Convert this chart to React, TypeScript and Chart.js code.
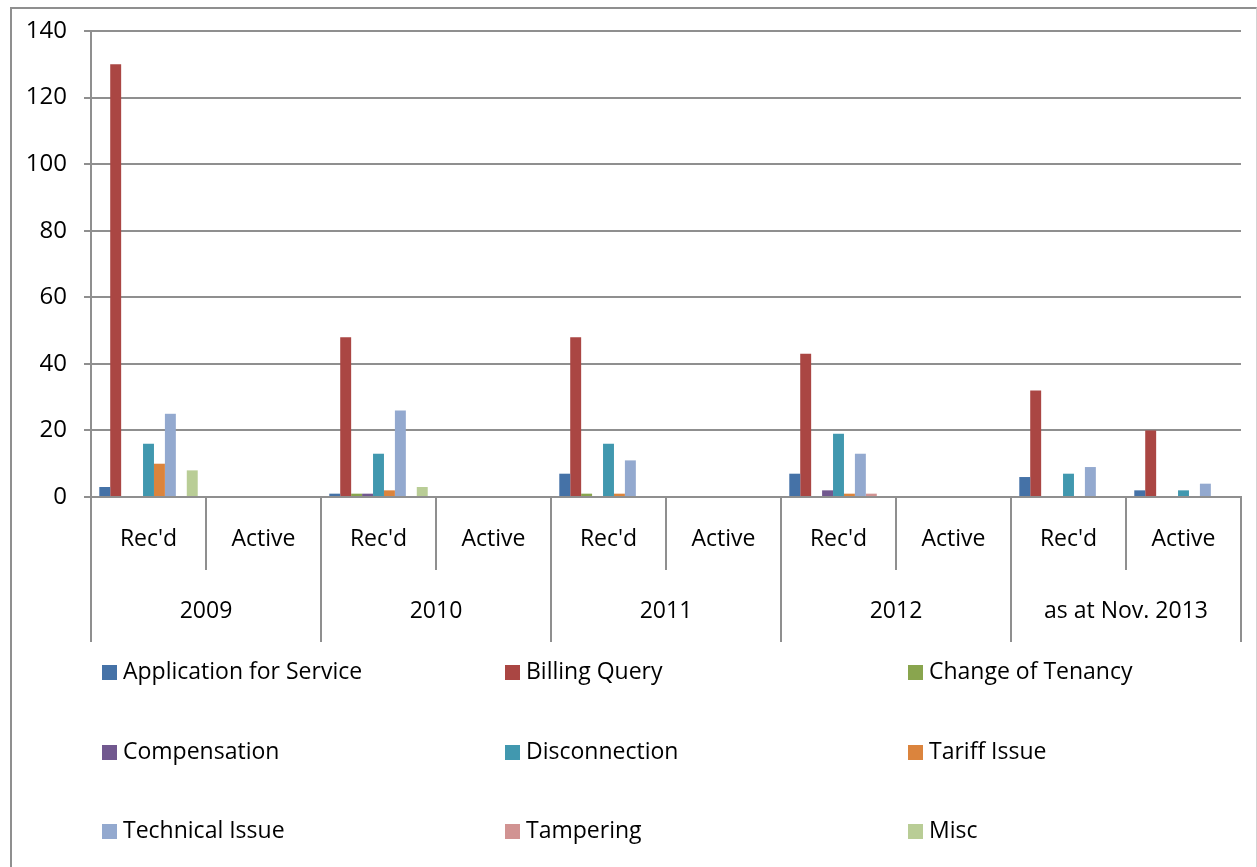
import React, { useEffect, useRef } from 'react';
import { Chart, registerables } from 'chart.js';

Chart.register(...registerables);

// ---- data ----
const subCategories = ["Rec'd", 'Active', "Rec'd", 'Active', "Rec'd", 'Active', "Rec'd", 'Active', "Rec'd", 'Active'];
const years = ['2009', '2010', '2011', '2012', 'as at Nov. 2013'];
const seriesNames = [
  'Application for Service',
  'Billing Query',
  'Change of Tenancy',
  'Compensation',
  'Disconnection',
  'Tariff Issue',
  'Technical Issue',
  'Tampering',
  'Misc',
];
const applicationForService = [3, 0, 1, 0, 7, 0, 7, 0, 6, 2];
const billingQuery = [130, 0, 48, 0, 48, 0, 43, 0, 32, 20];
const changeOfTenancy = [0, 0, 1, 0, 1, 0, 0, 0, 0, 0];
const compensation = [0, 0, 1, 0, 0, 0, 2, 0, 0, 0];
const disconnection = [16, 0, 13, 0, 16, 0, 19, 0, 7, 2];
const tariffIssue = [10, 0, 2, 0, 1, 0, 1, 0, 0, 0];
const technicalIssue = [25, 0, 26, 0, 11, 0, 13, 0, 9, 4];
const tampering = [0, 0, 0, 0, 0, 0, 1, 0, 0, 0];
const misc = [8, 0, 3, 0, 0, 0, 0, 0, 0, 0];
const yMin = 0;
const yMax = 140;
const yStep = 20;

const seriesValues = [
  applicationForService,
  billingQuery,
  changeOfTenancy,
  compensation,
  disconnection,
  tariffIssue,
  technicalIssue,
  tampering,
  misc,
];
const seriesColors = ['#4572A7', '#AA4643', '#89A54E', '#71588F', '#4198AF', '#DB843D', '#93A9CF', '#D19392', '#B9CD96'];

const FONT = '"Open Sans", "DejaVu Sans", sans-serif';
const GRID = '#8f8f8f';

const gridLegend = {
  id: 'gridLegend',
  afterDraw(chart: any) {
    const { ctx, chartArea } = chart;
    const colX = [chartArea.left + 11, chartArea.left + 414, chartArea.left + 817];
    const rowY = [chartArea.bottom + 175.5, chartArea.bottom + 255.5, chartArea.bottom + 334.5];
    ctx.save();
    ctx.font = `23px ${FONT}`;
    ctx.textBaseline = 'middle';
    ctx.textAlign = 'left';
    chart.data.datasets.forEach((ds: any, i: number) => {
      const x = colX[i % 3];
      const y = rowY[Math.floor(i / 3)];
      ctx.fillStyle = ds.backgroundColor;
      ctx.fillRect(x, y - 7.5, 15, 15);
      ctx.fillStyle = '#000';
      ctx.fillText(ds.label, x + 21, y);
    });
    ctx.restore();
  },
};

export default function App() {
  const canvasRef = useRef<HTMLCanvasElement | null>(null);

  useEffect(() => {
    document.documentElement.style.overflow = 'hidden';
    const canvas = canvasRef.current;
    if (!canvas) return;
    const chart = new Chart(canvas, {
      type: 'bar',
      data: {
        labels: subCategories,
        datasets: seriesNames.map((name, i) => ({
          label: name,
          data: seriesValues[i],
          backgroundColor: seriesColors[i],
          borderWidth: 0,
          categoryPercentage: 0.856,
          barPercentage: 1,
          xAxisID: 'x',
        })),
      },
      options: {
        animation: false,
        responsive: true,
        maintainAspectRatio: false,
        layout: { padding: { top: 22, right: 15, bottom: 240, left: 0 } },
        plugins: {
          legend: { display: false },
          tooltip: { enabled: false },
        },
        scales: {
          x: {
            type: 'category',
            position: 'bottom',
            weight: 0,
            offset: true,
            grid: {
              offset: true,
              drawOnChartArea: false,
              drawTicks: true,
              tickLength: 73,
              color: GRID,
              lineWidth: 2,
            },
            border: { display: true, color: GRID, width: 2 },
            ticks: {
              color: '#000',
              font: { family: FONT, size: 23 },
              padding: -44,
              maxRotation: 0,
              autoSkip: false,
            },
            afterFit(scale: any) {
              scale.height = 73;
            },
          },
          x2: {
            type: 'category',
            labels: years,
            position: 'bottom',
            weight: 1,
            offset: true,
            grid: {
              offset: true,
              drawOnChartArea: false,
              drawTicks: true,
              tickLength: 72,
              color: GRID,
              lineWidth: 2,
            },
            border: { display: false },
            ticks: {
              color: '#000',
              font: { family: FONT, size: 23 },
              padding: -44,
              maxRotation: 0,
              autoSkip: false,
            },
            afterFit(scale: any) {
              scale.height = 72;
            },
          },
          y: {
            min: yMin,
            max: yMax,
            ticks: {
              stepSize: yStep,
              color: '#000',
              font: { family: FONT, size: 24 },
              padding: 17,
            },
            grid: {
              color: GRID,
              lineWidth: 2,
              tickLength: 7,
              drawTicks: true,
            },
            border: { display: true, color: GRID, width: 2 },
            afterFit(scale: any) {
              scale.width = 79;
              scale.paddingTop = 0;
              scale.paddingBottom = 0;
            },
          },
        },
      },
      plugins: [gridLegend],
    });
    return () => chart.destroy();
  }, []);

  return (
    <div
      style={{
        position: 'fixed',
        left: 10,
        top: 7,
        width: 1247,
        height: 875,
        boxSizing: 'border-box',
        borderLeft: '2px solid #8f8f8f',
        borderTop: '2px solid #8f8f8f',
        borderRight: '1px solid #d4d4d4',
        background: '#fff',
      }}
    >
      <div style={{ position: 'relative', width: '100%', height: '100%' }}>
        <canvas ref={canvasRef} />
      </div>
    </div>
  );
}
